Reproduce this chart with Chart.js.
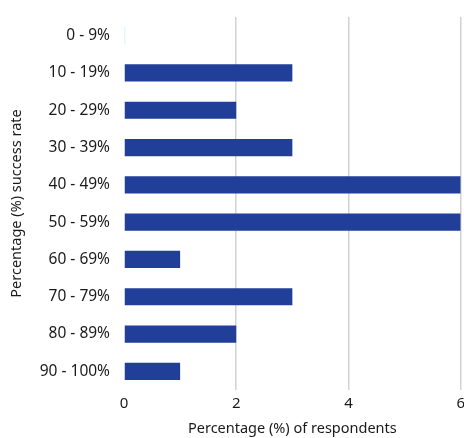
<!DOCTYPE html>
<html>
<head>
<meta charset="utf-8">
<script src="https://cdn.jsdelivr.net/npm/chart.js@4.4.1/dist/chart.umd.min.js"></script>
<style>
  html, body { margin: 0; padding: 0; background: #fff; overflow: hidden; }
  /* un poco mas ancho que la ventana: la etiqueta "6" queda al borde */
  #wrap { width: 470px; height: 438px; position: relative; }
</style>
</head>
<body>
<div id="wrap"><canvas id="grafica"></canvas></div>
<script>
// rangos de tasa de exito y porcentaje de encuestados
const rangos = ['0 - 9%', '10 - 19%', '20 - 29%', '30 - 39%', '40 - 49%', '50 - 59%', '60 - 69%', '70 - 79%', '80 - 89%', '90 - 100%'];
const porcentajes = [0.02, 3, 2, 3, 6, 6, 1, 3, 2, 1];
const ticksX = [0, 2, 4, 6];

const azul = '#213f99';
const celeste = '#9fdaf1';
const fuente = '"Noto Sans", "Open Sans", sans-serif';

const ctx = document.getElementById('grafica').getContext('2d');

new Chart(ctx, {
  type: 'bar',
  data: {
    labels: rangos,
    datasets: [{
      data: porcentajes,
      // el primer rango casi no tiene respuestas, va en color claro
      backgroundColor: porcentajes.map((v, i) => i === 0 ? celeste : azul),
      barPercentage: 0.92,
      categoryPercentage: 0.5
    }]
  },
  options: {
    indexAxis: 'y',
    responsive: true,
    maintainAspectRatio: false,
    animation: false,
    layout: { padding: { top: 17, right: 0, left: 0, bottom: 0 } },
    plugins: {
      legend: { display: false },
      tooltip: { enabled: false }
    },
    scales: {
      x: {
        min: 0,
        max: 6,
        afterBuildTicks: (scale) => { scale.ticks = ticksX.map(v => ({ value: v })); },
        afterFit: (scale) => { scale.height = 48; },
        border: { display: false },
        grid: {
          drawTicks: false,
          lineWidth: 1.5,
          color: (c) => c.tick && c.tick.value === 0 ? 'rgba(0,0,0,0)' : '#d2d2d2'
        },
        ticks: {
          padding: 5,
          color: '#1a1a1a',
          font: { family: fuente, size: 15 }
        },
        title: {
          display: true,
          text: 'Percentage (%) of respondents',
          color: '#1a1a1a',
          padding: { top: 2, bottom: 0 },
          font: { family: fuente, size: 14.5 }
        }
      },
      y: {
        afterFit: (scale) => {
          scale.width = 124;
          // sin relleno extra arriba/abajo por las etiquetas
          scale.paddingTop = 0;
          scale.paddingBottom = 0;
        },
        border: { display: false },
        grid: { display: false, drawTicks: false },
        ticks: {
          padding: 14,
          color: '#1a1a1a',
          font: { family: fuente, size: 15.5 }
        },
        title: {
          display: true,
          text: 'Percentage (%) success rate',
          color: '#1a1a1a',
          padding: { top: 8, bottom: 0 },
          font: { family: fuente, size: 14.5 }
        }
      }
    }
  }
});
</script>
</body>
</html>
